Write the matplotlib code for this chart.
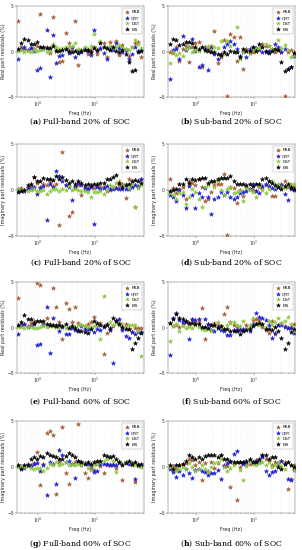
import matplotlib
matplotlib.use("Agg")
import matplotlib.pyplot as plt

plt.rcParams["mathtext.fontset"] = "dejavuserif"

# Frequencies (Hz)
freq_full = [0.450, 0.511, 0.581, 0.660, 0.750, 0.851, 0.967, 1.099, 1.248, 1.418,
             1.611, 1.830, 2.079, 2.361, 2.682, 3.047, 3.462, 3.933, 4.467, 5.075,
             5.766, 6.549, 7.440, 8.452, 9.601, 10.91, 12.39, 14.08, 15.99, 18.17,
             20.64, 23.44, 26.63, 30.25, 34.37, 39.04, 44.36, 50.39, 57.24, 65.02]
freq_sub = [0.360, 0.409, 0.464, 0.526, 0.597, 0.678, 0.769, 0.873, 0.990, 1.124,
            1.276, 1.447, 1.643, 1.864, 2.116, 2.401, 2.725, 3.092, 3.510, 3.983,
            4.520, 5.129, 5.821, 6.605, 7.497, 8.509, 9.654, 10.96, 12.43, 14.11,
            16.02, 18.17, 20.63, 23.41, 26.57, 30.15, 34.21, 38.83, 44.06, 50.00]

series_names = ["MLB", "QRT", "DST", "EIS"]

# (a) Real, full-band, 20% SOC
a_mlb = [3.4, 0.5, 0.3, 0.2, 0.4, 0.3, 0.6, 4.1, 0.5, 0.5, -0.2, 3.8, 0.3, -1.1, -1.0, 2.0, 0.9, 0.4, 3.3, -1.5,
         0.2, 0.4, -0.3, 0.2, 0.5, -0.3, 0.3, 0.9, -0.6, 1.0, 0.5, 1.1, -0.4, 0.7, 0.3, -0.5, 0.5, 0.9, 1.0, -0.6]
a_qrt = [-0.8, 0.3, 0.5, 0.2, 0.4, 0.1, -2.0, -1.8, 0.3, 2.4, -2.8, 1.8, -1.3, -0.5, -0.4, 0.3, -0.2, 0.5, -0.6, 0.2,
         -0.1, 0.3, 0.1, -0.4, 2.4, 0.1, 0.4, -0.2, -0.8, 0.3, 0.2, 0.9, 0.4, -0.1, 0.2, -0.8, -0.3, 0.5, 0.1, 0.2]
a_dst = [0.1, 0.2, 0.0, 0.1, -0.1, 0.2, 0.1, 0.2, 0.3, 0.0, 0.1, 0.8, 0.5, 0.3, 0.4, 0.5, 0.5, 0.6, 0.9, 0.3,
         0.2, 0.5, 0.3, 0.6, 1.9, 0.2, 1.2, 0.5, 0.3, 0.6, 0.4, 0.5, 0.7, 0.4, 0.3, 0.2, 0.5, 1.3, 0.8, 0.4]
a_eis = [0.3, 0.9, 1.4, 1.3, 0.8, 0.8, 1.0, 0.5, 0.5, 0.4, 0.4, 0.6, 0.05, 0.1, 0.2, 0.3, 0.1, 0.0, 0.1, -0.2,
         0.1, 0.2, 0.2, -0.1, 0.4, 0.2, 0.9, 0.5, 0.4, 0.2, 0.5, 0.1, -0.05, 0.2, -0.3, -1.2, -2.1, -2.0, -0.1, 0.1]

# (b) Real, sub-band, 20% SOC
b_mlb = [-0.1, -0.2, 0.5, -1.0, 0.3, 0.6, -1.1, 0.5, 0.9, 1.0, -1.7, 0.5, 0.3, 0.6, 2.2, -1.3, -0.6, 1.3, -4.9, 1.9,
         1.6, -1.0, 1.6, -1.9, 0.3, -0.2, 0.0, 0.1, 0.2, 0.8, 0.6, 0.6, 0.3, 0.0, 0.2, 0.0, -4.9, -0.1, 0.2, -0.1]
b_qrt = [-3.0, 0.2, 0.3, -0.8, 1.7, 0.2, 0.5, 1.4, 0.1, -1.7, -1.5, 0.3, -2.0, 0.4, -0.3, -0.8, -0.3, 0.5, 0.8, 1.2,
         0.8, 0.3, -0.5, 0.0, -0.6, 0.3, 0.5, 0.4, 0.3, 0.0, -0.1, 0.1, 0.2, 0.8, 0.5, -0.1, 0.3, -1.9, -1.7, -0.5]
b_dst = [-1.3, 0.0, -0.4, -0.2, -0.5, 0.3, 0.5, 0.0, 0.2, 0.1, 0.5, 0.1, 0.6, 0.2, 0.5, 0.4, 1.2, -0.3, 1.2, 0.6,
         0.1, 2.7, -0.8, 0.0, 0.1, -0.2, 0.3, 0.3, 0.4, 0.5, 0.8, 0.6, 0.3, 0.3, 1.3, 0.4, 0.7, 0.2, -0.6, -0.4]
b_eis = [0.85, 1.4, 1.3, 0.7, 0.85, 1.0, 1.0, 0.9, 0.5, 0.3, 0.5, 0.2, 0.1, 0.0, 0.0, -0.25, -0.4, 0.0, -0.25, 0.1,
         -0.1, 0.0, -0.55, 0.3, 0.1, 0.1, 0.5, 0.1, 0.85, 0.5, 0.1, -0.2, 0.1, 0.3, 0.2, -1.2, -2.1, -1.9, -1.7, -0.2]

# (c) Imaginary, full-band, 20% SOC
c_mlb = [0.0, 0.2, -0.1, 0.2, 0.4, 1.4, 0.8, 0.3, 0.6, 0.5, 0.9, 0.4, 0.6, -3.8, 4.1, 0.5, -2.8, -2.4, 0.3, 0.5,
         -0.5, 0.1, 0.2, 0.3, 0.2, 0.4, 0.3, 0.3, -0.1, 0.0, 0.3, 0.2, 0.5, 0.7, -0.9, 1.2, 0.3, -1.8, 0.4, 1.2]
c_qrt = [0.1, 0.0, -0.1, 0.2, 0.1, 0.3, -0.4, 0.2, 0.4, -3.3, 0.6, 0.3, 2.1, 1.5, 1.0, 0.5, 0.3, -1.1, 0.3, 0.8,
         0.5, 0.2, 0.1, 0.3, -3.7, 0.3, 0.1, 0.2, 0.4, 0.1, 0.1, 0.2, 0.1, 0.1, 0.1, 0.1, 0.3, 0.5, 0.3, 1.2]
c_dst = [0.1, 0.0, 0.0, -0.1, 0.0, 0.1, -0.1, -0.1, 0.0, -0.4, -0.1, 0.1, 0.1, -0.1, 0.1, 0.0, 0.4, 0.0, 0.1, 0.0,
         -0.1, -0.1, -0.2, -0.8, -0.2, -0.2, -0.1, -0.4, 0.0, 0.5, 0.3, 0.8, 1.0, 0.4, 0.6, 0.2, 0.7, -1.8, 0.2, 0.5]
c_eis = [-0.2, -0.1, 0.0, 0.5, 0.7, 1.4, 1.0, 1.0, 1.3, 1.2, 1.2, 1.1, 1.5, 1.2, 1.4, 1.1, 0.8, 1.0, 0.7, 1.0,
         0.8, 0.5, 0.7, 0.5, 0.6, 0.6, 0.8, 0.8, 1.2, 1.2, 1.4, 1.6, 0.8, 0.3, 0.5, 0.6, 1.0, 1.1, 1.0, 0.8]

# (d) Imaginary, sub-band, 20% SOC
d_mlb = [1.2, 0.2, -0.3, 0.1, 0.3, -1.0, 1.0, 0.8, 0.5, 1.2, 0.3, -1.2, -1.0, -0.2, 0.5, 0.7, 0.6, 1.7, -4.9, 0.3,
         0.2, -1.4, 0.0, -0.7, 0.3, 0.1, 0.0, -0.1, 0.3, 0.2, 0.5, 1.0, -0.6, -0.7, 0.3, 0.6, 1.0, 0.3, 0.2, 0.3]
d_qrt = [-0.5, -0.8, -1.2, 0.0, -0.5, -2.0, 0.4, -0.5, -2.0, -0.3, -0.8, 0.2, -0.8, -2.6, -1.0, -0.8, -0.2, -0.5, -0.2, -0.8,
         -1.0, -0.8, -0.3, -0.2, -0.1, 0.1, 0.6, -0.1, -0.3, 0.4, 0.6, 0.4, 0.2, 0.1, 0.3, 0.5, -0.4, -1.1, 0.1, 0.0]
d_dst = [-0.3, -0.5, -1.0, -0.3, -0.2, -1.5, -0.8, 0.1, -0.2, -1.0, -1.8, 0.3, 0.5, 0.9, 0.3, 1.0, 0.0, -0.5, 0.1, 0.2,
         -0.3, -0.2, -0.1, -1.2, 0.2, 0.0, -0.2, -0.8, 0.4, 0.0, -0.3, 0.1, 1.0, 0.3, 0.6, 0.3, 0.2, 0.5, 0.6, 0.6]
d_eis = [-0.1, 0.0, 0.1, 0.6, 0.6, 1.2, 0.8, 1.2, 1.1, 1.2, 1.35, 1.3, 0.8, 1.0, 1.0, 1.2, 1.3, 1.35, 1.35, 1.55,
         1.0, 0.6, 0.6, 0.6, 0.5, 0.6, 0.4, 0.6, 0.6, 1.2, 1.35, 1.0, 0.8, 0.5, 0.3, 0.1, 0.4, 0.6, 0.3, 0.1]

# (e) Real, full-band, 60% SOC
e_mlb = [3.2, 0.3, 0.4, 0.2, 0.5, 0.7, 4.9, 4.7, 0.6, 1.05, 0.4, 4.3, 2.2, 0.6, -1.3, 2.7, 2.0, 0.6, 2.3, 0.5,
         0.3, 0.2, 0.4, 0.6, 1.1, 0.3, 0.5, -2.9, -0.6, -0.3, 0.2, 0.8, 0.5, 0.0, 0.4, -0.2, -0.5, 0.0, -0.1, -0.1]
e_qrt = [-0.75, 0.2, 0.4, 0.1, 0.2, 0.4, -1.9, -1.8, 0.3, 2.2, -2.8, 1.05, 0.3, -0.4, 0.1, -0.7, -0.75, 0.0, -0.3, -0.3,
         0.2, -0.2, -0.2, 0.0, -0.5, -0.2, -0.3, 0.1, 0.4, -0.3, -3.9, 0.7, 0.9, -0.3, -0.95, -1.1, -0.5, -0.7, -0.5, -0.5]
e_dst = [0.05, 0.1, 0.0, 0.1, 0.1, 0.0, -0.05, 0.1, 0.2, 0.1, 0.15, 0.2, 0.1, 0.05, 0.2, -0.05, 0.1, 0.2, 0.1, 0.3,
         0.3, 0.2, 0.1, 0.1, 0.2, 0.3, -1.3, 3.5, 0.3, 0.6, 0.3, 0.5, 0.3, 0.4, 0.1, 0.3, 0.3, 0.3, -0.4, -3.1]
e_eis = [0.3, 0.6, 1.4, 0.95, 0.9, 0.5, 0.7, 0.7, 0.7, 0.4, 0.3, 0.25, 0.15, 0.25, 0.15, 0.35, 0.0, 0.15, 0.0, -0.4,
         -0.4, -0.45, -0.6, -0.2, 0.7, 0.5, 0.3, 0.15, 0.3, 0.0, 1.05, 0.7, 0.4, 0.1, -0.2, -0.2, -2.4, -1.7, -1.1, -0.6]

# (f) Real, sub-band, 60% SOC
f_mlb = [0.5, 0.2, 0.3, 0.1, 0.4, 0.7, 0.3, 0.8, 0.5, 0.6, 2.1, -1.3, 0.4, 0.3, 0.5, 0.3, 0.2, 1.5, 2.2, 0.6,
         0.3, 0.1, -0.2, -0.3, 0.3, 0.1, 0.8, 0.9, 0.8, 0.1, -0.3, -0.6, 0.7, -0.7, 0.3, 0.5, 0.2, 0.0, 0.1, 0.4]
f_qrt = [-3.0, 1.0, 1.6, 0.8, 0.6, 0.6, -1.3, 0.9, 0.8, 0.9, -0.1, 0.9, 0.4, -0.3, -0.4, 0.1, -0.3, -0.4, -0.8, -0.8,
         -0.3, -0.3, -0.3, -0.2, -0.2, -0.4, 0.4, 1.6, 1.2, 1.0, 0.8, 0.3, -1.1, -0.6, 0.3, 0.3, 0.1, -0.1, 0.0, -0.6]
f_dst = [-1.5, 0.2, 0.4, -0.4, 0.2, -0.1, 0.1, -0.05, 0.3, 0.1, -0.2, -0.3, -0.2, -0.4, 0.2, 0.6, 0.1, -0.2, 0.3, 0.5,
         0.6, 0.3, 0.2, 0.7, -0.2, 0.3, 1.0, 0.5, 0.3, 0.4, 0.1, 0.7, 0.3, 0.6, 1.05, 0.5, 0.7, 1.2, 0.4, -0.4]
f_eis = [0.5, 0.9, 1.5, 1.0, 0.9, 0.7, 0.5, 0.5, 0.35, 0.35, 0.05, 0.05, 0.0, 0.25, 0.25, 0.0, 0.15, -0.2, -0.2, -0.4,
         -0.4, -0.4, -0.75, -0.4, -0.3, -0.2, 0.15, 0.35, 0.5, 0.35, -0.2, -0.2, -0.3, 0.1, -0.4, -1.1, -2.4, -1.7, -0.5, -0.2]

# (g) Imaginary, full-band, 60% SOC
g_mlb = [0.2, 0.0, 0.1, 0.3, 0.2, 0.4, 1.65, -2.0, 0.3, 3.75, 3.9, 3.5, -2.9, 0.5, 4.4, -0.7, -1.8, 0.3, 0.5, 4.7,
         0.2, -0.7, -1.2, 0.1, -0.3, 0.3, 0.1, -0.7, 0.2, 0.2, 0.3, -0.1, 0.4, -1.45, 0.5, 0.4, 0.2, -1.6, 0.3, 0.2]
g_qrt = [0.1, 0.0, -0.1, 0.2, 0.1, 0.3, 0.4, -0.4, 0.2, -3.0, 0.55, 0.3, -1.8, 1.8, 1.3, 0.55, 0.6, 0.3, -1.2, 0.7,
         0.55, 0.4, 0.35, -0.2, -0.55, -0.4, 0.35, 0.35, 0.35, 0.2, 0.2, 0.2, 0.55, 0.3, 0.55, 0.3, 0.4, -1.3, 0.2, 0.1]
g_dst = [0.0, 0.1, 0.0, 0.1, -0.1, -0.2, -0.15, -0.15, -0.45, -0.1, 0.35, 0.25, 0.55, 0.25, 0.35, 0.55, 0.2, 0.35, 0.2, 0.3,
         0.35, 0.4, -0.1, -0.35, 0.2, 0.35, 0.55, 0.7, 0.9, 1.1, 0.7, -0.55, 0.7, 0.35, 0.5, 0.55, 0.3, 0.2, 0.1, 0.0]
g_eis = [0.2, -0.25, 0.25, 0.25, 0.9, 1.1, 0.9, 1.25, 1.1, 1.55, 1.35, 1.25, 1.1, 0.9, 0.9, 1.25, 1.55, 1.35, 1.1, 0.7,
         0.55, 0.35, 0.55, 0.35, 0.55, 0.7, 0.7, 1.35, 1.25, 1.1, 1.25, 0.9, 0.55, 0.2, 0.4, 0.6, 0.3, 0.5, 0.2, 0.3]

# (h) Imaginary, sub-band, 60% SOC
h_mlb = [0.0, 0.1, -0.2, 0.2, 0.3, 0.4, 0.9, 0.8, 0.2, 0.5, -1.45, 0.4, -0.4, 0.5, -0.1, 0.4, 1.3, 0.2, 0.1, -2.2,
         0.3, -3.6, 0.0, 0.4, 0.2, 0.3, 0.5, 0.8, 0.6, 1.35, 0.9, 0.7, 0.2, 0.5, 0.3, 0.6, 0.5, -2.4, -1.3, 0.2]
h_qrt = [-0.2, -0.5, -1.1, -0.4, -0.9, -0.2, -0.7, -1.2, -0.3, -0.2, -0.4, -0.5, -0.9, -0.7, -0.6, -0.3, -1.3, 0.1, 0.4, 0.5,
         1.45, 1.7, 0.5, 0.3, 0.5, 0.6, 0.5, 0.7, 0.5, 1.1, -0.4, -0.9, -0.5, -0.4, 0.4, 0.6, 0.3, -1.25, -1.45, -0.3]
h_dst = [0.0, -0.2, -0.4, -0.2, 0.0, -0.2, 0.4, 0.0, -0.45, -0.2, 0.2, -0.2, -0.5, 0.0, 0.4, 0.5, 0.9, 0.0, -0.4, -0.1,
         0.2, 0.5, -0.3, -1.45, 0.1, 0.5, 0.3, 0.2, 0.4, 0.5, 0.2, 0.5, 0.0, 0.2, 0.4, 0.1, -0.2, 0.5, 0.2, -0.3]
h_eis = [0.2, -0.2, 0.2, 0.25, 0.35, 0.7, 1.3, 1.1, 0.9, 1.1, 0.9, 1.2, 1.35, 1.3, 1.3, 1.1, 1.3, 0.9, 0.9, 0.6,
         0.55, 0.55, 0.55, 0.55, 0.7, 0.9, 0.55, 0.55, 0.9, 1.3, 1.3, 0.9, 1.1, 1.1, 0.0, -0.2, 0.3, 0.5, 0.2, 0.0]

captions = ["Full-band 20% of SOC", "Sub-band 20% of SOC",
            "Full-band 20% of SOC", "Sub-band 20% of SOC",
            "Full-band 60% of SOC", "Sub-band 60% of SOC",
            "Full-band 60% of SOC", "Sub-band 60% of SOC"]
letters = ["a", "b", "c", "d", "e", "f", "g", "h"]
ylabels = ["Real part residuals (%)", "Real part residuals (%)",
           "Imaginary part residuals (%)", "Imaginary part residuals (%)",
           "Real part residuals (%)", "Real part residuals (%)",
           "Imaginary part residuals (%)", "Imaginary part residuals (%)"]
panels = [(a_mlb, a_qrt, a_dst, a_eis), (b_mlb, b_qrt, b_dst, b_eis),
          (c_mlb, c_qrt, c_dst, c_eis), (d_mlb, d_qrt, d_dst, d_eis),
          (e_mlb, e_qrt, e_dst, e_eis), (f_mlb, f_qrt, f_dst, f_eis),
          (g_mlb, g_qrt, g_dst, g_eis), (h_mlb, h_qrt, h_dst, h_eis)]

colors = ["#a55a32", "#1c1cd8", "#8cc83c", "#000000"]

W, H = 302, 550
fig = plt.figure(figsize=(W / 100, H / 100), dpi=100)

col_left = [17, 168]
ax_w = 127
rows = [(6, 97), (144, 236), (282, 373), (421, 513)]
cap_y = [122, 263, 402, 544]

for k in range(8):
    r, c = divmod(k, 2)
    top, bot = rows[r]
    ax = fig.add_axes([col_left[c] / W, 1 - bot / H, ax_w / W, (bot - top) / H])
    fr = freq_full if c == 0 else freq_sub
    for s, (vals, col, name) in enumerate(zip(panels[k], colors, series_names)):
        ax.plot(fr, vals, linestyle="none", marker="*", markersize=3.3,
                color=col, markeredgewidth=0.3, label=name, zorder=3 + s)
    ax.set_xscale("log")
    if c == 0:
        ax.set_xlim(0.43, 72)
    else:
        ax.set_xlim(0.335, 51.5)
    ax.set_ylim(-5, 5)
    ax.set_yticks([-5, 0, 5])
    ax.set_xticks([1, 10])
    ax.set_xticklabels([r"$10^0$", r"$10^1$"])
    ax.tick_params(axis="both", labelsize=3.3, length=1.2, width=0.3, pad=1,
                   colors="#333333", which="major")
    ax.tick_params(axis="x", which="minor", length=0.8, width=0.25)
    ax.grid(True, which="both", axis="x", color="#d8d8d8", lw=0.3, ls=":")
    for sp in ax.spines.values():
        sp.set_linewidth(0.3)
        sp.set_color("#555555")
    ax.set_xlabel("Freq (Hz)", fontsize=3.5, labelpad=1.5, color="#222222")
    ax.set_ylabel(ylabels[k], fontsize=3.5, labelpad=1, color="#222222")
    leg = ax.legend(loc="upper right", fontsize=3.0, frameon=True, fancybox=False,
                    handlelength=1.0, handletextpad=0.6, borderpad=0.5,
                    labelspacing=0.45, markerscale=0.9)
    leg.get_frame().set_linewidth(0.3)
    leg.get_frame().set_edgecolor("#888888")
    cx = (col_left[c] + ax_w / 2) / W
    fig.text(cx, 1 - cap_y[r] / H,
             r"(" + r"$\mathbf{" + letters[k] + r"}$" + ") " + captions[k],
             ha="center", va="center", fontsize=5.6, family="DejaVu Serif")

fig.savefig("out.png", dpi=100)
